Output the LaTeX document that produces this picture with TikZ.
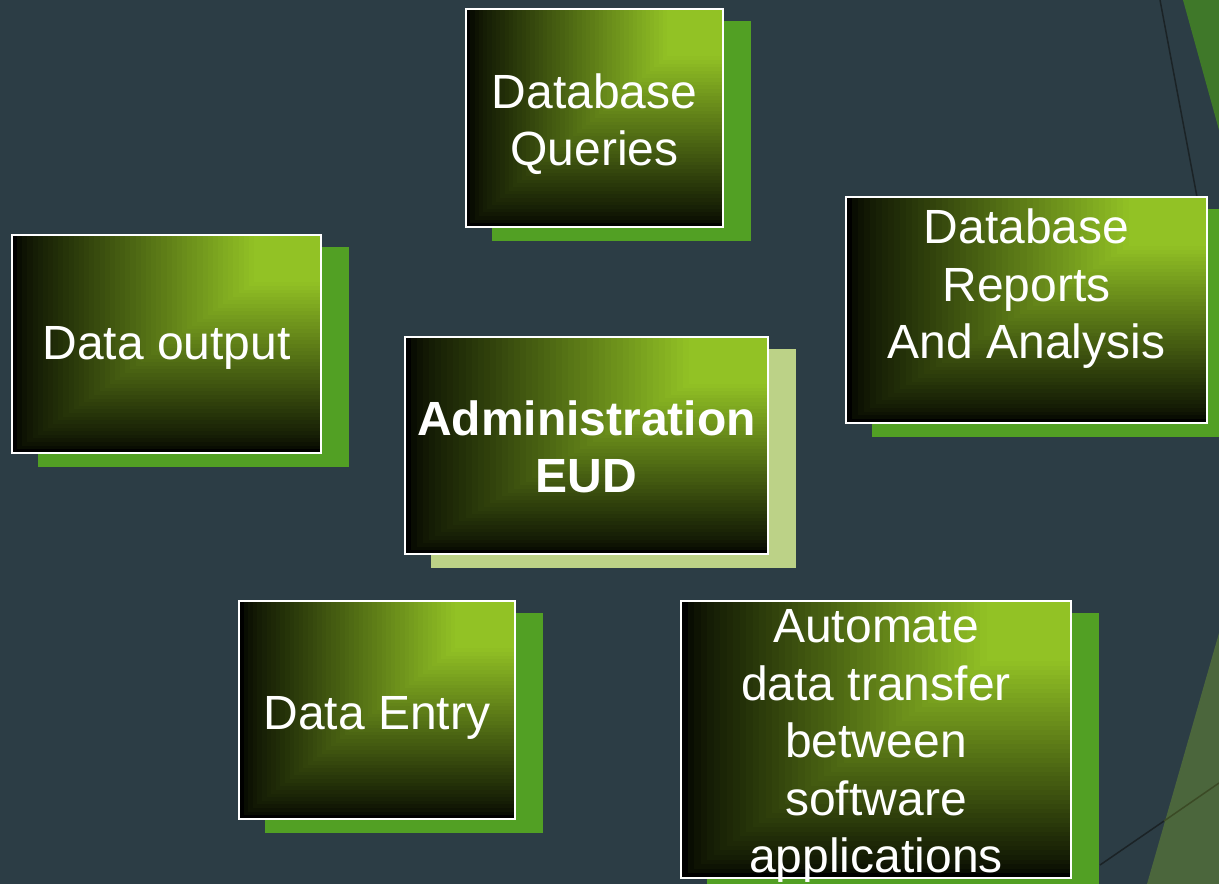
\documentclass[tikz,border=0pt]{standalone}
\usepackage{fontspec}
\setmainfont{Liberation Sans}

\definecolor{bg}{HTML}{2C3D45}
\definecolor{gGreen}{HTML}{92C225}
\definecolor{gDark}{HTML}{1E2907}
\definecolor{blockGreen}{HTML}{52A024}
\definecolor{blockLight}{HTML}{BCD287}
\definecolor{triGreen}{HTML}{3F7829}
\definecolor{olive}{HTML}{4B663C}
\definecolor{lineDark}{HTML}{1B2326}
\definecolor{lineOlive}{HTML}{3B4A25}

\tikzset{
  boxframe/.style={draw=white, line width=2pt, inner sep=0pt},
  boxtext/.style={text=white, align=center, inner sep=0pt,
    font=\fontsize{48}{57.5}\selectfont},
}

% #1 name, #2/#3 top-left, #4/#5 bottom-right, #6 colour of the offset block
\newcommand\gradbox[6]{%
  \fill[#6] ({#2+26},{#3+12}) rectangle ({#4+28},{#5+14});
  % corner gradient: light at top-right, dark towards left and bottom edges
  \foreach \k in {0,...,59}{%
    \pgfmathsetmacro\s{1-\k/60}%
    \pgfmathsetmacro\pa{\s>0.88 ? 100*((1-\s)/0.12)^0.6 : 100}%
    \pgfmathsetmacro\pb{\s<0.22 ? 100 : (\s>0.88 ? 0 : 100*(0.88-\s)/0.66)}%
    \colorlet{mixA}{gDark!\pa!black}%
    \colorlet{mixB}{gGreen!\pb!mixA}%
    \fill[mixB] ({#4-\s*(#4-#2)},#3) rectangle (#4,{#3+\s*(#5-#3)});
  }%
  \node[boxframe, minimum width={(#4-#2)*1pt}, minimum height={(#5-#3)*1pt}]
    (#1) at ({(#2+#4)/2},{(#3+#5)/2}) {};
}

\begin{document}
\begin{tikzpicture}[x=1pt,y=-1pt]
  \fill[bg] (0,0) rectangle (1219,884);
  \useasboundingbox (0,0) rectangle (1219,884);

  % corner decorations
  \fill[triGreen] (1183,0) -- (1219,0) -- (1219,130) -- cycle;
  \draw[lineDark, line width=1.5pt] (1160,0) -- (1197,197);
  \fill[olive] (1147,884) -- (1219,633) -- (1219,884) -- cycle;
  \draw[lineDark, line width=1.5pt] (1100,865) -- (1164,821);
  \draw[lineOlive, line width=1.5pt] (1164,821) -- (1219,783);

  % boxes
  \gradbox{queries}{466}{9}{723}{227}{blockGreen}
  \gradbox{output}{12}{235}{321}{453}{blockGreen}
  \gradbox{reports}{846}{197}{1207}{423}{blockGreen}
  \gradbox{admin}{405}{337}{768}{554}{blockLight}
  \gradbox{entry}{239}{601}{515}{819}{blockGreen}
  \gradbox{transfer}{681}{601}{1071}{878}{blockGreen}

  % labels
  \node[boxtext] (queriesT) at ([yshift=-6pt]queries.center) {Database\\Queries};
  \node[boxtext] (outputT) at ([yshift=-4pt]output.center) {Data output};
  \node[boxtext] (reportsT) at ([yshift=21pt]reports.center) {Database\\Reports\\And Analysis};
  \node[boxtext, font=\fontsize{48}{57.5}\selectfont\bfseries] (adminT)
    at ([yshift=-1.5pt]admin.center) {Administration\\EUD};
  \node[boxtext] (entryT) at ([yshift=-8pt]entry.center) {Data Entry};
  \node[boxtext] (transferT) at ([yshift=-6.5pt]transfer.center)
    {Automate\\data transfer\\between\\software\\applications};
\end{tikzpicture}
\end{document}
